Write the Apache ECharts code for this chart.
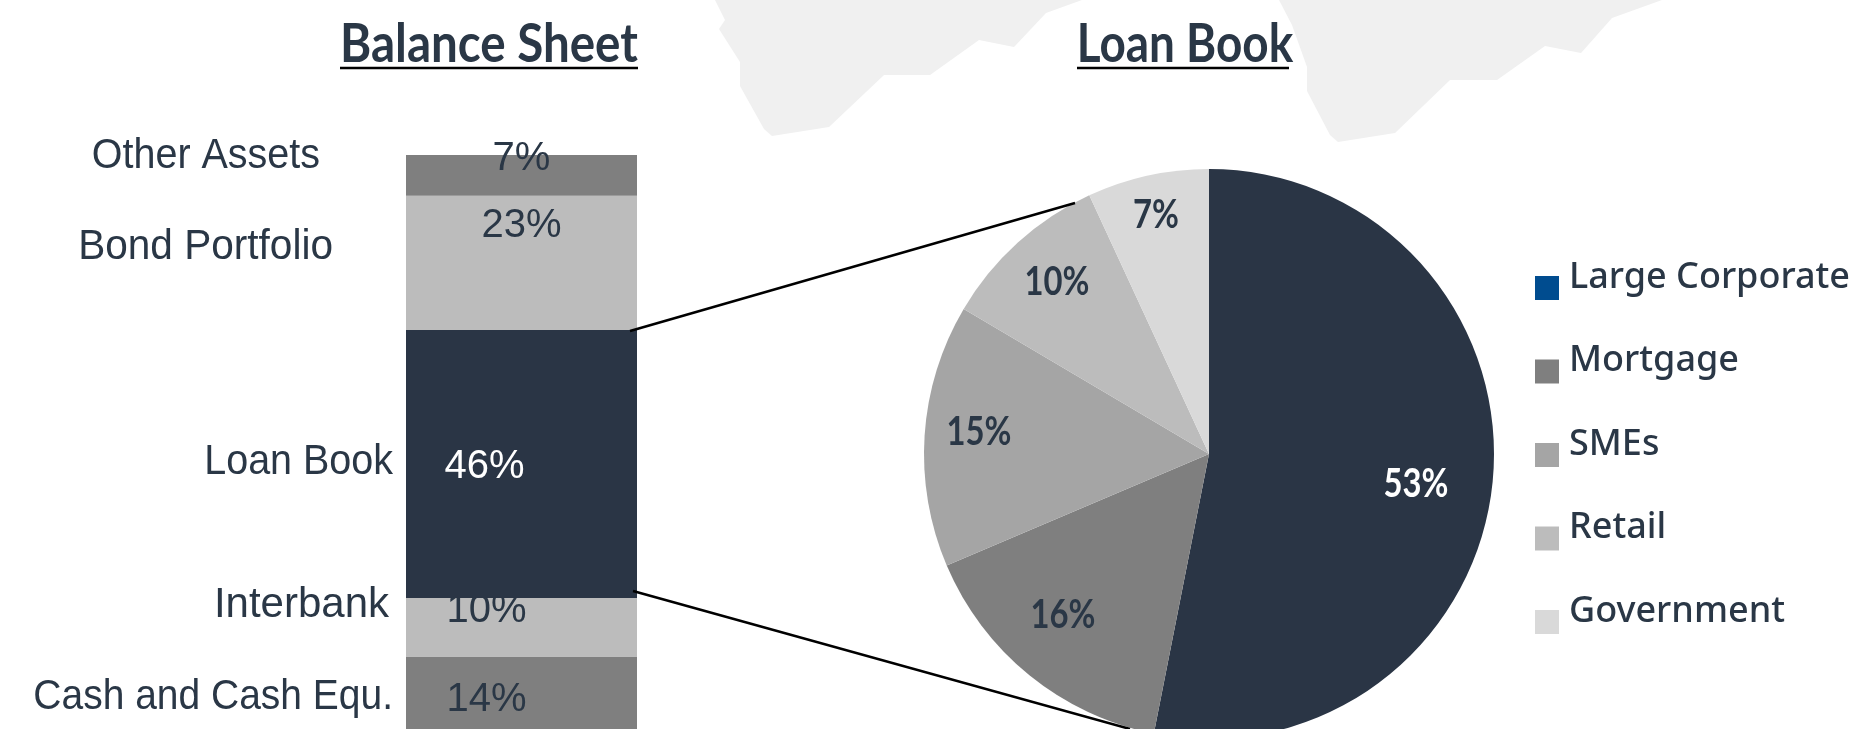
<!DOCTYPE html>
<html><head><meta charset="utf-8">
<style>html,body{margin:0;padding:0;background:#fff}#c{width:1865px;height:729px}</style>
<script src="https://cdn.jsdelivr.net/npm/echarts@6/dist/echarts.min.js"></script>
</head><body><div id="c"></div>
<script>
const barCategories = ['Cash and Cash Equ.', 'Interbank', 'Loan Book', 'Bond Portfolio', 'Other Assets'];
const barValues = [14, 10, 46, 23, 7];
const pieCategories = ['Large Corporate', 'Mortgage', 'SMEs', 'Retail', 'Government'];
const pieValues = [53.1, 15.5, 14.9, 9.6, 6.9];
const titles = ['Balance Sheet', 'Loan Book'];

const INK = '#2a3746', DARK = '#2a3545';
const barColors = ['#7f7f7f', '#bcbcbc', DARK, '#bcbcbc', '#7f7f7f'];
const barLabelColors = [INK, INK, '#fff', INK, INK];
const barLabelOffsets = [[-35, 3], [-35, -16], [-37, 3], [0, -37], [0, -16]];
const barZ = [2, 2, 3, 2, 2];
const pieColors = [DARK, '#7f7f7f', '#a5a5a5', '#bcbcbc', '#d9d9d9'];
const legendColors = ['#004c8f', '#7f7f7f', '#a5a5a5', '#bcbcbc', '#d9d9d9'];
const pieLabelLayout = [[1416, 484, '#fff'], [1063, 615, INK], [979, 432, INK], [1057, 282, INK], [1156, 215, INK]];

const mapShapes = [
  [[715,0],[725,20],[719,29],[740,62],[740,86],[764,129],[772,136],[829,127],[884,75],[930,75],[979,40],[1014,47],[1046,13],[1082,0]],
  [[1279,0],[1292,25],[1307,67],[1307,91],[1330,135],[1338,142],[1395,133],[1450,80],[1497,80],[1545,46],[1581,53],[1612,18],[1662,0]]
];
const leaders = [[630,331,1075,203],[633,591,1130,729]];

const nameLayout = {
  'Other Assets': [320, 156.5, .94], 'Bond Portfolio': [333, 247, .966], 'Loan Book': [393, 462.5, .94],
  'Interbank': [389, 605.5, 1], 'Cash and Cash Equ.': [393, 697, .928]
};
const NAME_FONT = '42px "Liberation Sans"', TITLE_FONT = 'bold 54px Lato', PCT_FONT = 'bold 40px Lato';

const graphic = [];
mapShapes.forEach(p => graphic.push({type:'polygon', z:0, silent:true, shape:{points:p}, style:{fill:'#f0f0f0'}}));
barCategories.forEach(n => graphic.push({type:'text', z:10, x:nameLayout[n][0], y:nameLayout[n][1], scaleX:nameLayout[n][2], style:{text:n, font:NAME_FONT, fill:INK, align:'right', verticalAlign:'middle'}}));
[[titles[0], 340, 638, .88, 489],[titles[1], 1077, 1289, .85, 1185]].forEach(t => {
  graphic.push({type:'text', z:10, x:t[4], y:45, scaleX:t[3], style:{text:t[0], font:TITLE_FONT, fill:INK, align:'center', verticalAlign:'middle'}});
  graphic.push({type:'line', z:10, shape:{x1:t[1], y1:68, x2:t[2], y2:68}, style:{stroke:'#000', lineWidth:2.5}});
});
leaders.forEach(l => graphic.push({type:'line', z:10, shape:{x1:l[0],y1:l[1],x2:l[2],y2:l[3]}, style:{stroke:'#000', lineWidth:2.5}}));
pieLabelLayout.forEach((l,i) => graphic.push({type:'text', z:10, x:l[0], y:l[1], scaleX:.82, style:{text:Math.round(pieValues[i])+'%', font:PCT_FONT, fill:l[2], align:'center', verticalAlign:'middle'}}));

const barSeries = barCategories.map((n, i) => ({
  type:'bar', name:n, stack:'a', barWidth:'100%', z:barZ[i], animation:false,
  data:[barValues[i]],
  itemStyle:{color:barColors[i]},
  label:{show:true, position:'inside', offset:barLabelOffsets[i], formatter:p=>p.value+'%', color:barLabelColors[i], fontSize:40, fontFamily:'Liberation Sans'}
}));

const chart = echarts.init(document.getElementById('c'), null, {renderer:'canvas', width:1865, height:729});
chart.setOption({
  animation:false,
  backgroundColor:'#fff',
  graphic:graphic,
  grid:{left:406, top:155, width:231, height:583, outerBoundsMode:'none'},
  xAxis:{type:'category', data:['Balance Sheet'], show:false},
  yAxis:{type:'value', min:0, max:100, show:false},
  legend:{
    left:1530, top:254.5, orient:'vertical', selectedMode:false, itemWidth:24, itemHeight:24, itemGap:43, icon:'rect',
    formatter:'{a|{name}}',
    textStyle:{color:INK, padding:[0,0,21,5], rich:{a:{fontSize:36, fontWeight:500, fontFamily:'Noto Sans', color:INK}}},
    data:pieCategories.map((n,i)=>({name:n, itemStyle:{color:legendColors[i]}}))
  },
  series:[...barSeries, {
    type:'pie', center:[1209,454], radius:285, startAngle:90, clockwise:true, animation:false, silent:true,
    data:pieCategories.map((n,i)=>({name:n, value:pieValues[i], itemStyle:{color:pieColors[i]}})),
    label:{show:false}, labelLine:{show:false}
  }]
});
</script></body></html>
